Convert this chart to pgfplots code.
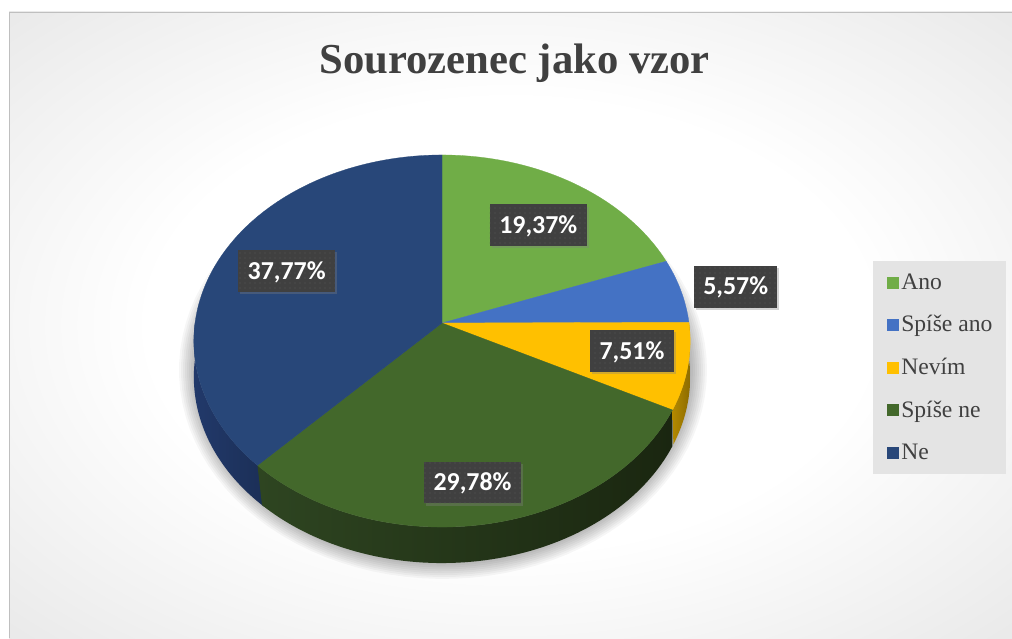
\documentclass[border=0pt]{standalone}
\usepackage{pgfplots}
\pgfplotsset{compat=1.18}
\usepackage{fontspec}
\setmainfont{Liberation Serif}
\newfontfamily\lblfont{Carlito}
\usetikzlibrary{shadows,patterns.meta}

\definecolor{cAno}{HTML}{70AD47}
\definecolor{cSpa}{HTML}{4472C4}
\definecolor{cNev}{HTML}{FFC000}
\definecolor{cSpn}{HTML}{43682B}
\definecolor{cNe}{HTML}{284779}
\definecolor{sNeL}{HTML}{22396A}
\definecolor{sNeR}{HTML}{1B2F57}
\definecolor{sSpnL}{HTML}{2E4521}
\definecolor{sSpnR}{HTML}{1A2610}
\definecolor{sNevL}{HTML}{B38900}
\definecolor{sNevR}{HTML}{8C6B00}
\definecolor{lblgray}{HTML}{404040}
\definecolor{lbldot}{HTML}{575757}
\definecolor{titlegray}{HTML}{404040}
\definecolor{legbg}{HTML}{E4E4E4}
\definecolor{bgout}{HTML}{B8B8B8}
\definecolor{framec}{HTML}{BFBFBF}

\pgfdeclareradialshading{bgshade}{\pgfpoint{0bp}{0bp}}{color(0bp)=(white);color(18bp)=(white);color(75bp)=(bgout)}

% data (percent)
\def\vAno{19.37}
\def\vSpa{5.57}
\def\vNev{7.51}
\def\vSpn{29.78}
\def\vNe{37.77}

\tikzset{lbl/.style={fill=lblgray, text=white,
  font=\lblfont\bfseries\fontsize{19.4pt}{23pt}\selectfont,
  inner xsep=7pt, inner ysep=0pt, minimum height=31.25pt,
  text height=12.4pt, text depth=0pt,
  drop shadow={shadow xshift=1.5pt, shadow yshift=-1.8pt, opacity=0.35},
  postaction={pattern={Dots[distance=3.75pt, radius=0.5pt]}, pattern color=lbldot}}}

\begin{document}
\begin{tikzpicture}
\useasboundingbox (0,0) rectangle (759pt,478.5pt);
\fill[white] (0,0) rectangle (759pt,478.5pt);
\shade[shading=bgshade] (6.75pt,0pt) rectangle (759pt,469.5pt);
\draw[framec, line width=0.6pt] (6.75pt,0pt) -- (6.75pt,469.5pt) -- (759pt,469.5pt);

\pgfmathsetmacro\aA{90}
\pgfmathsetmacro\aB{\aA-3.6*\vAno}
\pgfmathsetmacro\aC{\aB-3.6*\vSpa}
\pgfmathsetmacro\aD{\aC-3.6*\vNev}
\pgfmathsetmacro\aE{\aD-3.6*\vSpn}
\pgfmathsetmacro\aF{\aE-3.6*\vNe}
\pgfmathsetmacro\aEx{\aE+2}

\begin{axis}[
  at={(0pt,0pt)}, anchor=south west,
  scale only axis, width=759pt, height=478.5pt,
  xmin=0, xmax=1012, ymin=0, ymax=638, y dir=reverse,
  hide axis, clip=false,
  declare function={
    px(\ut)=442+247*cos(\ut)/(1+0.0968*sin(\ut));
    py(\ut)=323-184.3*sin(\ut)/(1+0.0968*sin(\ut));
    sth(\us,\ua,\ub)=(\us<=1)*(\ua+(\ub-\ua)*\us)+(\us>1)*(\ub+(\ua-\ub)*(\us-1));
  },
  legend image code/.code={\path (0pt,0pt); \fill[#1,draw=none] (1.5pt,-4.5pt) rectangle (10.5pt,4.5pt);},
  legend style={at={(0.8627,0.5909)}, anchor=north west, draw=none, fill=legbg,
    inner xsep=8.25pt, inner ysep=8.6pt, row sep=16.9pt,
    font=\fontsize{17.7pt}{21pt}\selectfont, text=titlegray,
    nodes={inner xsep=2pt, inner ysep=0pt, text height=12.5pt, text depth=2.5pt}},
  legend cell align=left,
]
% soft shadow
\pgfplotsinvokeforeach{0,...,11}{
  \addplot[forget plot, draw=none, fill=black, fill opacity=0.035, domain=0:360, samples=100]
    ({443+(242+2.0*#1)*cos(x)}, {370+(188+1.9*#1)*sin(x)});
}
% sides (front half)
\addplot[forget plot, draw=none, left color=sNeL, right color=sNeR, domain=0:2, samples=151]
  ({px(sth(x,\aEx,-180))},{py(sth(x,\aEx,-180))+36*(x>1)}) -- cycle;
\addplot[forget plot, draw=none, left color=sSpnL, right color=sSpnR, domain=0:2, samples=151]
  ({px(sth(x,\aD,\aE))},{py(sth(x,\aD,\aE))+36*(x>1)}) -- cycle;
\addplot[forget plot, draw=none, left color=sNevL, right color=sNevR, domain=0:2, samples=101]
  ({px(sth(x,0,\aD))},{py(sth(x,0,\aD))+36*(x>1)}) -- cycle;
% top faces
\addplot[forget plot, fill=cAno, draw=cAno, line width=0.2pt, domain=\aB:\aA, samples=60]
  ({px(x)},{py(x)}) -- (axis cs:442,323) -- cycle;
\addplot[forget plot, fill=cSpa, draw=cSpa, line width=0.2pt, domain=\aC:\aB, samples=30]
  ({px(x)},{py(x)}) -- (axis cs:442,323) -- cycle;
\addplot[forget plot, fill=cNev, draw=cNev, line width=0.2pt, domain=\aD:\aC, samples=30]
  ({px(x)},{py(x)}) -- (axis cs:442,323) -- cycle;
\addplot[forget plot, fill=cSpn, draw=cSpn, line width=0.2pt, domain=\aE:\aD, samples=80]
  ({px(x)},{py(x)}) -- (axis cs:442,323) -- cycle;
\addplot[forget plot, fill=cNe, draw=cNe, line width=0.2pt, domain=\aF:\aE, samples=100]
  ({px(x)},{py(x)}) -- (axis cs:442,323) -- cycle;

\addlegendimage{fill=cAno}\addlegendentry{Ano}
\addlegendimage{fill=cSpa}\addlegendentry{Spíše ano}
\addlegendimage{fill=cNev}\addlegendentry{Nevím}
\addlegendimage{fill=cSpn}\addlegendentry{Spíše ne}
\addlegendimage{fill=cNe}\addlegendentry{Ne}

% data labels
\node[lbl] at (axis cs:538.3,225) {19,37\%};
\node[lbl] at (axis cs:735.7,286.7) {5,57\%};
\node[lbl] at (axis cs:632,350.8) {7,51\%};
\node[lbl] at (axis cs:472.5,482.5) {29,78\%};
\node[lbl] at (axis cs:286.7,270.8) {37,77\%};

% title
\node[anchor=base, text=titlegray, font=\bfseries\fontsize{32pt}{38pt}\selectfont]
  at (axis cs:514.5,73.3) {Sourozenec jako vzor};
\end{axis}
\end{tikzpicture}
\end{document}
